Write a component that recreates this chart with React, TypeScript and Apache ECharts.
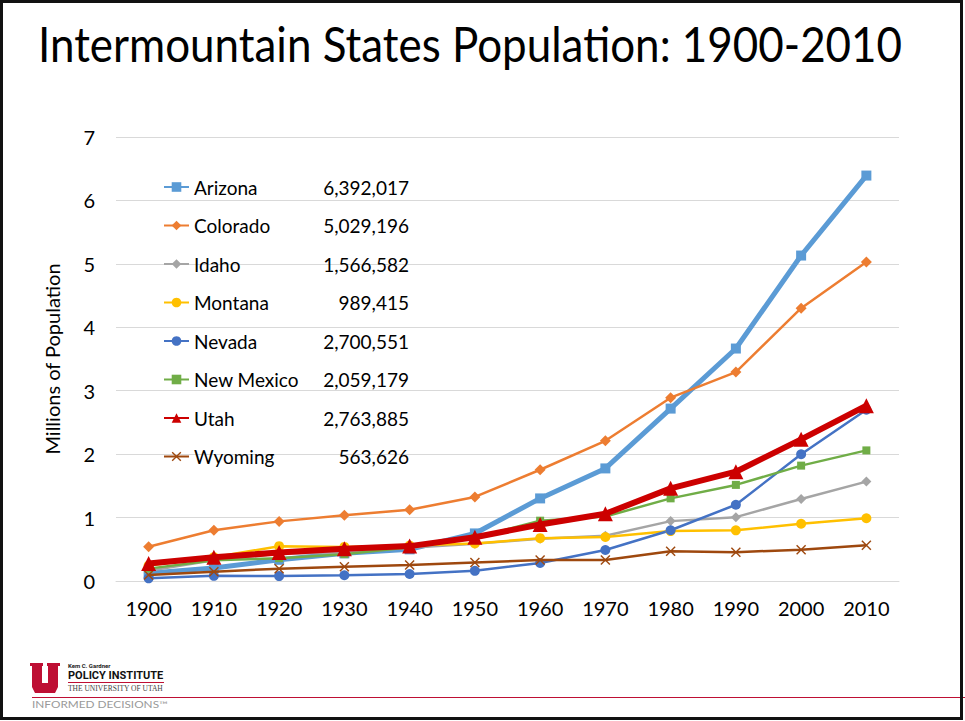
import React, { useEffect, useRef } from "react";
import * as echarts from "echarts";

const years = ["1900", "1910", "1920", "1930", "1940", "1950", "1960", "1970", "1980", "1990", "2000", "2010"];
const stateNames = ["Arizona", "Colorado", "Idaho", "Montana", "Nevada", "New Mexico", "Utah", "Wyoming"];
const pop2010Labels = ["6,392,017", "5,029,196", "1,566,582", "989,415", "2,700,551", "2,059,179", "2,763,885", "563,626"];

const arizona = [0.123, 0.204, 0.334, 0.436, 0.499, 0.75, 1.302, 1.775, 2.718, 3.665, 5.131, 6.392];
const colorado = [0.54, 0.799, 0.94, 1.036, 1.123, 1.325, 1.754, 2.21, 2.89, 3.294, 4.301, 5.029];
const idaho = [0.162, 0.326, 0.432, 0.445, 0.525, 0.589, 0.667, 0.713, 0.944, 1.007, 1.294, 1.567];
const montana = [0.243, 0.376, 0.549, 0.538, 0.559, 0.591, 0.675, 0.694, 0.787, 0.799, 0.902, 0.989];
const nevada = [0.042, 0.082, 0.077, 0.091, 0.11, 0.16, 0.285, 0.489, 0.8, 1.202, 1.998, 2.701];
const newMexico = [0.195, 0.327, 0.36, 0.423, 0.532, 0.681, 0.951, 1.016, 1.303, 1.515, 1.819, 2.059];
const utah = [0.277, 0.373, 0.449, 0.508, 0.55, 0.689, 0.891, 1.059, 1.461, 1.723, 2.233, 2.764];
const wyoming = [0.093, 0.146, 0.194, 0.226, 0.251, 0.291, 0.33, 0.332, 0.47, 0.454, 0.494, 0.564];

const TITLE = "Intermountain States Population: 1900-2010";
const FONT = "Lato";
const CROSS = "path://M0,1L1,0L5,4L9,0L10,1L6,5L10,9L9,10L5,6L1,10L0,9L4,5Z";

const seriesDefs = [
  { data: arizona, color: "#5B9BD5", width: 5, symbol: "rect", size: 10, z: 2 },
  { data: colorado, color: "#ED7D31", width: 2.5, symbol: "diamond", size: 11, z: 3 },
  { data: idaho, color: "#A5A5A5", width: 2.5, symbol: "diamond", size: 10, z: 3 },
  { data: montana, color: "#FFC000", width: 2.5, symbol: "circle", size: 10, z: 3 },
  { data: nevada, color: "#4472C4", width: 2.5, symbol: "circle", size: 10, z: 3 },
  { data: newMexico, color: "#70AD47", width: 2.5, symbol: "rect", size: 8, z: 3 },
  { data: utah, color: "#CC0000", width: 6, symbol: "triangle", size: 15, z: 5 },
  { data: wyoming, color: "#9E480E", width: 2.5, symbol: CROSS, size: 10, z: 4 },
];

function measure(text: string, font: string): number {
  const c = document.createElement("canvas").getContext("2d");
  if (!c) return 0;
  c.font = font;
  return c.measureText(text).width;
}

export default function App() {
  const ref = useRef<HTMLDivElement>(null);
  useEffect(() => {
    if (!ref.current) return;
    const chart = echarts.init(ref.current, null, { renderer: "svg" });
    const titleSize = 49;
    const titleW = measure(TITLE, `${titleSize}px ${FONT}`) || 1000;
    const titleScale = 864 / titleW;
    const tagW = measure("INFORMED DECISIONS™", `9px ${FONT}`) || 100;
    const tagScale = 136 / tagW;
    const option: any = {
      animation: false,
      backgroundColor: "#fff",
      grid: { left: 116, right: 66, top: 137, bottom: 140, containLabel: false },
      xAxis: {
        type: "category",
        data: years,
        boundaryGap: true,
        axisLine: { show: true, lineStyle: { color: "#D9D9D9", width: 1 } },
        axisTick: { show: false },
        axisLabel: { color: "#000", fontFamily: FONT, fontSize: 20, margin: 17 },
      },
      yAxis: {
        type: "value",
        min: 0,
        max: 7,
        interval: 1,
        name: "Millions of Population",
        nameLocation: "middle",
        nameGap: 54,
        nameRotate: 90,
        nameTextStyle: { color: "#000", fontFamily: FONT, fontSize: 20 },
        axisLine: { show: false },
        axisTick: { show: false },
        axisLabel: { color: "#000", fontFamily: FONT, fontSize: 20, margin: 21 },
        splitLine: { lineStyle: { color: "#D9D9D9", width: 1 } },
      },
      legend: {
        orient: "vertical",
        left: 163,
        top: 177,
        padding: 0,
        itemWidth: 25,
        itemHeight: 12,
        itemGap: 18.5,
        data: stateNames,
        formatter: (name: string) => {
          const i = stateNames.indexOf(name);
          return `{n|${name}}{v|${pop2010Labels[i]}}`;
        },
        textStyle: {
          color: "#000",
          fontFamily: FONT,
          fontSize: 19,
          lineHeight: 20,
          rich: {
            n: { width: 110, fontFamily: FONT, fontSize: 19, color: "#000", lineHeight: 20 },
            v: { width: 105, align: "right", fontFamily: FONT, fontSize: 19, color: "#000", lineHeight: 20 },
          },
        },
      },
      series: seriesDefs.map((s, i) => ({
        type: "line",
        name: stateNames[i],
        data: s.data,
        z: s.z,
        symbol: s.symbol,
        symbolSize: s.size,
        showAllSymbol: true,
        lineStyle: { color: s.color, width: s.width },
        itemStyle: { color: s.color, borderColor: s.color, borderWidth: 0 },
        emphasis: { disabled: true },
      })),
      graphic: [
        {
          type: "rect",
          shape: { x: 1.5, y: 1.5, width: 960, height: 717 },
          style: { fill: "none", stroke: "#111", lineWidth: 3 },
          silent: true,
          z: 100,
        },
        {
          type: "text",
          x: 38,
          y: 43,
          scaleX: titleScale,
          style: {
            text: TITLE,
            fontFamily: FONT,
            fontSize: titleSize,
            fill: "#000",
            verticalAlign: "middle",
          },
        },
        {
          type: "polygon",
          shape: {
            points: [
              [30, 663], [43, 663], [43, 666], [42, 666], [42, 683], [48, 683], [48, 666], [47, 666],
              [47, 663], [60, 663], [60, 666], [58, 666], [58, 687], [55, 693], [35, 693], [32, 687],
              [32, 666], [30, 666],
            ],
          },
          style: { fill: "#BE0F34" },
        },
        {
          type: "text",
          x: 68,
          y: 662,
          style: { text: "Kem C. Gardner", fontFamily: "Roboto", fontSize: 6, fontWeight: "bold", fill: "#222" },
        },
        {
          type: "text",
          x: 68,
          y: 670,
          style: { text: "POLICY INSTITUTE", fontFamily: "Roboto", fontSize: 11, fontWeight: "bold", fill: "#111" },
        },
        {
          type: "line",
          shape: { x1: 68, y1: 682.5, x2: 164, y2: 682.5 },
          style: { stroke: "#BE0F34", lineWidth: 1 },
        },
        {
          type: "text",
          x: 68,
          y: 684,
          style: { text: "THE UNIVERSITY OF UTAH", fontFamily: "Liberation Serif", fontSize: 7.5, fill: "#444" },
        },
        {
          type: "line",
          shape: { x1: 32, y1: 697.5, x2: 965, y2: 697.5 },
          style: { stroke: "#BE0F34", lineWidth: 1 },
        },
        {
          type: "text",
          x: 32,
          y: 700,
          scaleX: tagScale,
          style: { text: "INFORMED DECISIONS™", fontFamily: FONT, fontSize: 9, fill: "#999" },
        },
      ],
    };
    chart.setOption(option);
    return () => chart.dispose();
  }, []);
  return (
    <div
      ref={ref}
      style={{ position: "absolute", left: 0, top: 0, width: 965, height: 721 }}
    />
  );
}
